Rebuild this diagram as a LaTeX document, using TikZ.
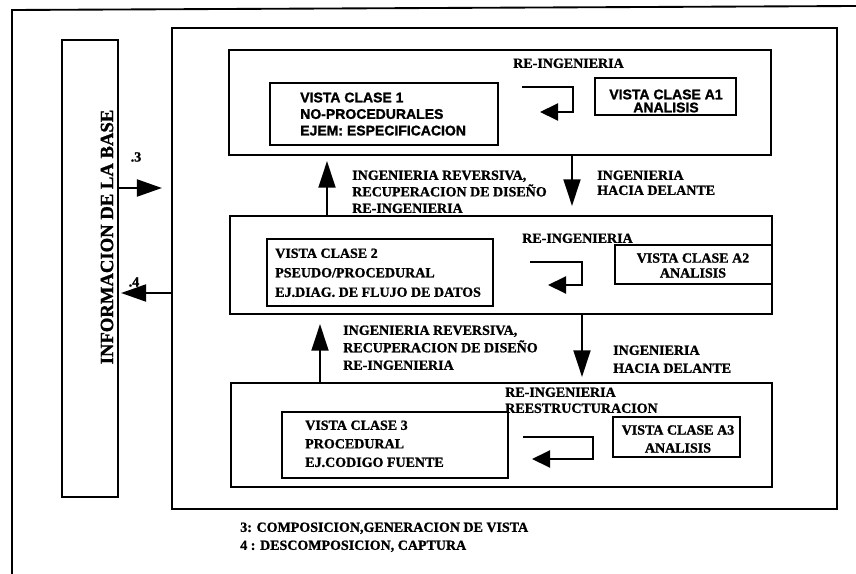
\documentclass[tikz,border=0pt]{standalone}
\usepackage{fontspec}
\setmainfont{Liberation Serif}[BoldFeatures={FakeBold=1.2}]
\setsansfont{Liberation Sans}[BoldFeatures={FakeBold=1.5}]
\usetikzlibrary{arrows.meta}
\begin{document}
\begin{tikzpicture}[x=0.75pt,y=-0.75pt,
  frame/.style={line width=1.4pt},
  box/.style={draw, line width=1.6pt, inner sep=0pt},
  hbox/.style={draw, line width=2.2pt, inner sep=0pt},
  txt/.style={inner sep=0pt, anchor=north west, align=left},
  tfont/.style={font=\bfseries\fontsize{10.5}{#1}\selectfont},
  sfont/.style={font=\sffamily\bfseries\fontsize{10.5}{#1}\selectfont},
  bigarrow/.style={line width=1.5pt, -{Triangle[length=20pt,width=12.75pt]}},
  sidearrow/.style={line width=1.5pt, -{Triangle[length=18.75pt,width=12.75pt]}},
  looparrow/.style={line width=1.5pt, -{Triangle[length=13.5pt,width=12.75pt]}},
]
\useasboundingbox (0,0) rectangle (856,574);

% page frame (top and left rules)
\draw[frame] (856,6) -- (12,10) -- (12,574);

% knowledge base column
\node[box, minimum width=42pt, minimum height=342.75pt] (base) at (90,268.5) {};
\node[inner sep=0pt, rotate=90, font=\bfseries\fontsize{14}{16}\selectfont] (basetxt) at (107,237) {INFORMACION DE LA BASE};

% system frame
\node[box, minimum width=498.75pt, minimum height=360.75pt] (sistema) at (504.5,268.5) {};

% level 1
\node[box, minimum width=406.5pt, minimum height=78.75pt] (n1) at (500,102.5) {};
\node[hbox, minimum width=171pt, minimum height=46.5pt] (v1) at (384,114) {};
\node[txt, sfont=12.4pt] (v1txt) at (300,92.3) {VISTA CLASE 1\\NO-PROCEDURALES\\EJEM: ESPECIFICACION};
\node[hbox, minimum width=105.75pt, minimum height=27.75pt] (a1) at (665.5,96.5) {};
\node[inner sep=0pt, align=center, sfont=9.8pt] (a1txt) at (666,101) {VISTA CLASE A1\\ANALISIS};
\node[txt, tfont=13pt] (re1) at (513,58.3) {RE-INGENIERIA};

% level 2
\node[box, minimum width=406.5pt, minimum height=73.5pt] (n2) at (501,265) {};
\node[hbox, minimum width=169.5pt, minimum height=50.25pt] (v2) at (380,272.5) {};
\node[txt, tfont=14.6pt] (v2txt) at (275,248.3) {VISTA CLASE 2\\PSEUDO/PROCEDURAL\\EJ.DIAG. DE FLUJO DE DATOS};
\node[hbox, minimum width=117.75pt, minimum height=29.25pt] (a2) at (693.5,264.5) {};
\node[inner sep=0pt, align=center, tfont=11.2pt] (a2txt) at (693,265.5) {VISTA CLASE A2\\ANALISIS};
\node[txt, tfont=13pt] (re2) at (522,233.3) {RE-INGENIERIA};

% level 3
\node[box, minimum width=405.75pt, minimum height=78pt] (n3) at (501.5,435) {};
\node[hbox, minimum width=169.5pt, minimum height=49.5pt] (v3) at (395,445) {};
\node[txt, tfont=13.9pt] (v3txt) at (305,420.3) {VISTA CLASE 3\\PROCEDURAL\\EJ.CODIGO FUENTE};
\node[hbox, minimum width=95.25pt, minimum height=30pt] (a3) at (676.5,437) {};
\node[inner sep=0pt, align=center, tfont=13.5pt] (a3txt) at (678,439) {VISTA CLASE A3\\ANALISIS};
\node[txt, tfont=12pt] (re3) at (505,387.3) {RE-INGENIERIA\\REESTRUCTURACION};

% re-engineering loops inside each level
\coordinate (l1a) at (522,87);  \coordinate (l1b) at (573,112); \coordinate (l1c) at (540,112);
\coordinate (l2a) at (530,262); \coordinate (l2b) at (582,285); \coordinate (l2c) at (548,285);
\coordinate (l3a) at (523,437); \coordinate (l3b) at (593,459); \coordinate (l3c) at (532,459);
\draw[looparrow] (l1a) -| (l1b) -- (l1c);
\draw[looparrow] (l2a) -| (l2b) -- (l2c);
\draw[looparrow] (l3a) -| (l3b) -- (l3c);

% transitions between levels
\coordinate (up1) at (327,0);  \coordinate (dn1) at (572,0);
\coordinate (up2) at (320,0);  \coordinate (dn2) at (582,0);
\draw[bigarrow, shorten >=3.75pt] (n2.north -| up1) -- (n1.south -| up1);
\draw[bigarrow, shorten >=6.75pt] (n1.south -| dn1) -- (n2.north -| dn1);
\draw[bigarrow, shorten >=6.75pt] (n3.north -| up2) -- (n2.south -| up2);
\draw[bigarrow, shorten >=3.75pt] (n2.south -| dn2) -- (n3.north -| dn2);

\node[txt, tfont=12.4pt] (t1) at (352,170.3) {INGENIERIA REVERSIVA,\\RECUPERACION DE DISEÑO\\RE-INGENIERIA};
\node[txt, tfont=11.3pt] (t2) at (597,170.3) {INGENIERIA\\HACIA DELANTE};
\node[txt, tfont=13.1pt] (t3) at (343,325.3) {INGENIERIA REVERSIVA,\\RECUPERACION DE DISEÑO\\RE-INGENIERIA};
\node[txt, tfont=13.5pt] (t4) at (613,345.3) {INGENIERIA\\HACIA DELANTE};

% exchange with the knowledge base
\coordinate (c3) at (0,188); \coordinate (c4) at (0,293);
\draw[sidearrow, shorten >=6.75pt] (base.east |- c3) -- (sistema.west |- c3);
\draw[sidearrow, shorten >=1.5pt] (sistema.west |- c4) -- (base.east |- c4);
\node[inner sep=0pt, tfont=12pt] (k3) at (136,157) {.3};
\node[inner sep=0pt, tfont=12pt] (k4) at (134,282) {.4};

% legend
\node[txt, tfont=13.5pt] (legend) at (240,522.3) {3: COMPOSICION,GENERACION DE VISTA\\4 : DESCOMPOSICION, CAPTURA};
\end{tikzpicture}
\end{document}
